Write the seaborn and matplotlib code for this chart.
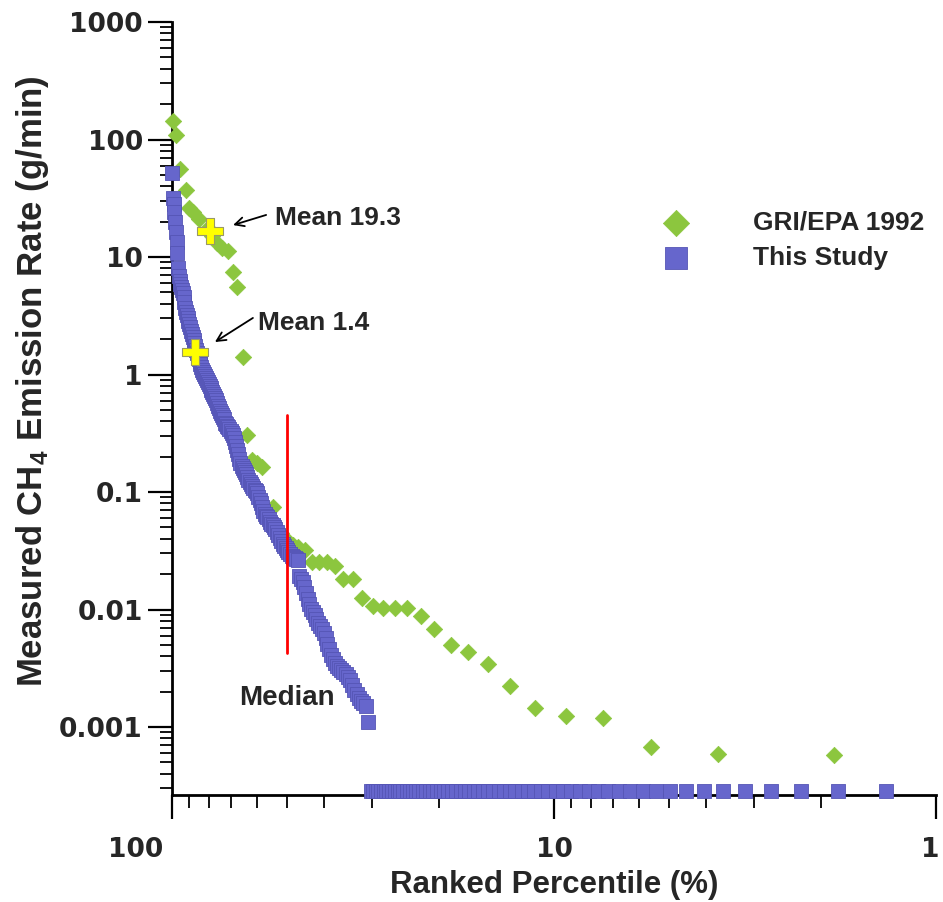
import numpy as np
import pandas as pd
import matplotlib
matplotlib.use('Agg')
import matplotlib.pyplot as plt
import matplotlib.transforms as mtransforms
from matplotlib.ticker import NullFormatter, LogLocator
import seaborn as sns

# GRI/EPA 1992: ranked percentile (%) and measured rate (g/min)
gri_pct = [99.5, 97.6, 95.3, 91.9, 90.3, 88.1, 85.0, 80.5, 78.6, 76.3, 74.0, 71.3,
           69.2, 67.6, 65.2, 63.6, 61.7, 59.9, 58.1, 54.4, 51.9, 50.0, 48.2, 46.8,
           44.9, 43.0, 41.2, 39.3, 37.4, 35.7, 33.6, 31.8, 29.8, 28.0, 26.1, 24.3,
           22.3, 20.6, 18.6, 16.8, 14.9, 13.0, 11.2, 9.30, 7.44, 5.57, 3.72, 1.85]
gri_rate = [144, 109, 56, 37, 26, 24, 21, 17.5, 15, 13.2, 11.9, 11.2,
            7.45, 5.56, 1.41, 0.305, 0.187, 0.177, 0.163, 0.0745, 0.045, 0.039, 0.0354, 0.034,
            0.032, 0.0254, 0.0254, 0.0254, 0.0234, 0.0182, 0.0182, 0.0125, 0.0107, 0.0103, 0.0103, 0.0103,
            0.0088, 0.0068, 0.0050, 0.00435, 0.00344, 0.00223, 0.00145, 0.00124, 0.00119, 0.00068, 0.00059, 0.00058]

# This Study: rates above detection, highest first (g/min)
study_rate = [52, 32, 28, 24, 20, 16.3, 13.4, 10.8, 8.0, 6.9,
              6.25, 5.9, 5.56, 5.24, 4.94, 4.57, 4.14, 3.68, 3.40, 3.21,
              3.03, 2.85, 2.69, 2.54, 2.34, 2.21, 2.08, 1.97, 1.85, 1.75,
              1.62, 1.52, 1.44, 1.36, 1.30, 1.23, 1.16, 1.09, 1.05, 1.01,
              0.97, 0.93, 0.90, 0.86, 0.83, 0.80, 0.77, 0.74, 0.71, 0.68,
              0.66, 0.63, 0.61, 0.57, 0.54, 0.52, 0.49, 0.47, 0.45, 0.435,
              0.42, 0.39, 0.38, 0.365, 0.357, 0.344, 0.33, 0.318, 0.305, 0.288,
              0.267, 0.246, 0.228, 0.21, 0.19, 0.177, 0.166, 0.16, 0.154, 0.148,
              0.142, 0.134, 0.126, 0.122, 0.117, 0.112, 0.108, 0.104, 0.102, 0.098,
              0.091, 0.0855, 0.0805, 0.0745, 0.069, 0.065, 0.0625, 0.0612, 0.0589, 0.0556,
              0.0535, 0.0524, 0.0503, 0.0484, 0.0457, 0.0431, 0.0406, 0.0383, 0.0361, 0.0347,
              0.0334, 0.0321, 0.0308, 0.0296, 0.0285, 0.028, 0.0274, 0.0269, 0.0264, 0.0193,
              0.0182, 0.0171, 0.0155, 0.0138, 0.0123, 0.0111, 0.0101, 0.0095, 0.0090, 0.0083,
              0.0077, 0.0072, 0.0068, 0.0063, 0.0057, 0.0051, 0.0046, 0.0041, 0.0038, 0.0035,
              0.0033, 0.00318, 0.00305, 0.00294, 0.00282, 0.00267, 0.00251, 0.00228, 0.00206, 0.00191,
              0.00177, 0.00166, 0.0016, 0.00151, 0.0011]
study_nondetects = 67      # zero readings, drawn along the bottom of the axis
nondetect_floor = 2.85e-4

mean_labels = ['Mean 19.3', 'Mean 1.4']
mean_pct = [79.5, 87.0]
mean_rate = [16.5, 1.55]
median_pct = 50

y_ticks = [0.001, 0.01, 0.1, 1, 10, 100, 1000]
y_ticklabels = ['0.001', '0.01', '0.1', '1', '10', '100', '1000']
x_ticks = [100, 10, 1]
x_ticklabels = ['100', '10', '1']

# ranked percentile for this study
n_total = len(study_rate) + study_nondetects
ranks = np.arange(n_total, 0, -1)
study = pd.DataFrame({
    'pct': 100.0 * ranks / n_total,
    'rate': study_rate + [nondetect_floor] * study_nondetects,
})
study = study[study['pct'] >= 1]   # the lowest two ranks fall off the axis
gri = pd.DataFrame({'pct': gri_pct, 'rate': gri_rate})

sns.set_style('ticks')
plt.rcParams['font.family'] = ['Liberation Sans', 'DejaVu Sans']
plt.rcParams['font.weight'] = 'bold'
plt.rcParams['mathtext.fontset'] = 'custom'
plt.rcParams['mathtext.bf'] = 'Liberation Sans:bold'
plt.rcParams['mathtext.rm'] = 'Liberation Sans:bold'

fig = plt.figure(figsize=(9.43, 9.02), dpi=100)
ax = fig.add_axes([172 / 943, 1 - 795 / 902, 764 / 943, 773 / 902])

green = '#8cc63e'
blue = '#6666cc'

sns.scatterplot(data=gri, x='pct', y='rate', marker='D', s=70, color=green,
                edgecolor=green, linewidth=0.5, label='GRI/EPA 1992', ax=ax,
                clip_on=False, zorder=3)
sns.scatterplot(data=study, x='pct', y='rate', marker='s', s=100, color=blue,
                edgecolor='#5555b5', linewidth=0.6, label='This Study', ax=ax,
                clip_on=False, zorder=4)
ax.scatter(mean_pct, mean_rate, marker='P', s=330, color='#ffff00',
           edgecolor='#999966', linewidth=0.8, zorder=6, clip_on=False)

ax.set_xscale('log')
ax.set_yscale('log')
ax.set_xlim(100, 1)
ax.set_ylim(2.64e-4, 1000)

# median marker
ax.plot([median_pct, median_pct], [0.0043, 0.45], color='red', lw=2, zorder=5)
ax.text(median_pct, 0.00177, 'Median', ha='center', va='center',
        fontsize=20, fontweight='bold')

# mean callouts: label text plus a separate arrow
ax.text(53.7, 21.5, mean_labels[0], ha='left', va='center', fontsize=19, fontweight='bold')
ax.annotate('', xy=(69.2, 18.7), xytext=(56.7, 22.8),
            arrowprops=dict(arrowstyle='->', color='black', lw=1.3, shrinkA=0, shrinkB=0,
                            mutation_scale=16))
ax.text(59.6, 2.74, mean_labels[1], ha='left', va='center', fontsize=19, fontweight='bold')
ax.annotate('', xy=(77.2, 1.89), xytext=(61.4, 3.03),
            arrowprops=dict(arrowstyle='->', color='black', lw=1.3, shrinkA=0, shrinkB=0,
                            mutation_scale=16))

ax.set_yticks(y_ticks, y_ticklabels)
ax.set_xticks(x_ticks, x_ticklabels)
ax.yaxis.set_minor_locator(LogLocator(base=10, subs=np.arange(2, 10)))
ax.xaxis.set_minor_locator(LogLocator(base=10, subs=np.arange(2, 10)))
ax.yaxis.set_minor_formatter(NullFormatter())
ax.xaxis.set_minor_formatter(NullFormatter())
for lab in ax.get_xticklabels() + ax.get_yticklabels():
    lab.set_fontfamily('DejaVu Sans')
    lab.set_fontweight('bold')
    lab.set_fontsize(19)

ax.tick_params(which='major', length=17, width=1.6, direction='out', pad=4, color='black')
ax.tick_params(which='minor', length=9, width=1.3, direction='out', color='black')
ax.tick_params(axis='x', which='major', pad=13)

# nudge the end labels of the x axis as in the original
xlabs = ax.get_xticklabels()
xlabs[0].set_transform(xlabs[0].get_transform() +
                       mtransforms.ScaledTranslation(-36 / 100, 0, fig.dpi_scale_trans))
xlabs[2].set_transform(xlabs[2].get_transform() +
                       mtransforms.ScaledTranslation(-6 / 100, 0, fig.dpi_scale_trans))

sns.despine(ax=ax)
for side in ['left', 'bottom']:
    ax.spines[side].set_linewidth(2)
    ax.spines[side].set_color('black')

ax.set_xlabel('Ranked Percentile (%)', fontsize=22.5, fontweight='bold', va='center')
ax.xaxis.set_label_coords(0.5, -0.1164)
ax.set_ylabel(r'Measured CH$_{\mathbf{4}}$ Emission Rate (g/min)', fontsize=25,
              fontweight='bold', va='center')
ax.yaxis.set_label_coords(-0.182, 0.536)

leg = ax.legend(loc='upper left', bbox_to_anchor=(0.6257, 0.7555), frameon=False,
                fontsize=19, markerscale=1.6, handlelength=2, handletextpad=1.9,
                labelspacing=0.42, borderpad=0, borderaxespad=0)
for t in leg.get_texts():
    t.set_fontweight('bold')

fig.savefig('out.png', dpi=100)
